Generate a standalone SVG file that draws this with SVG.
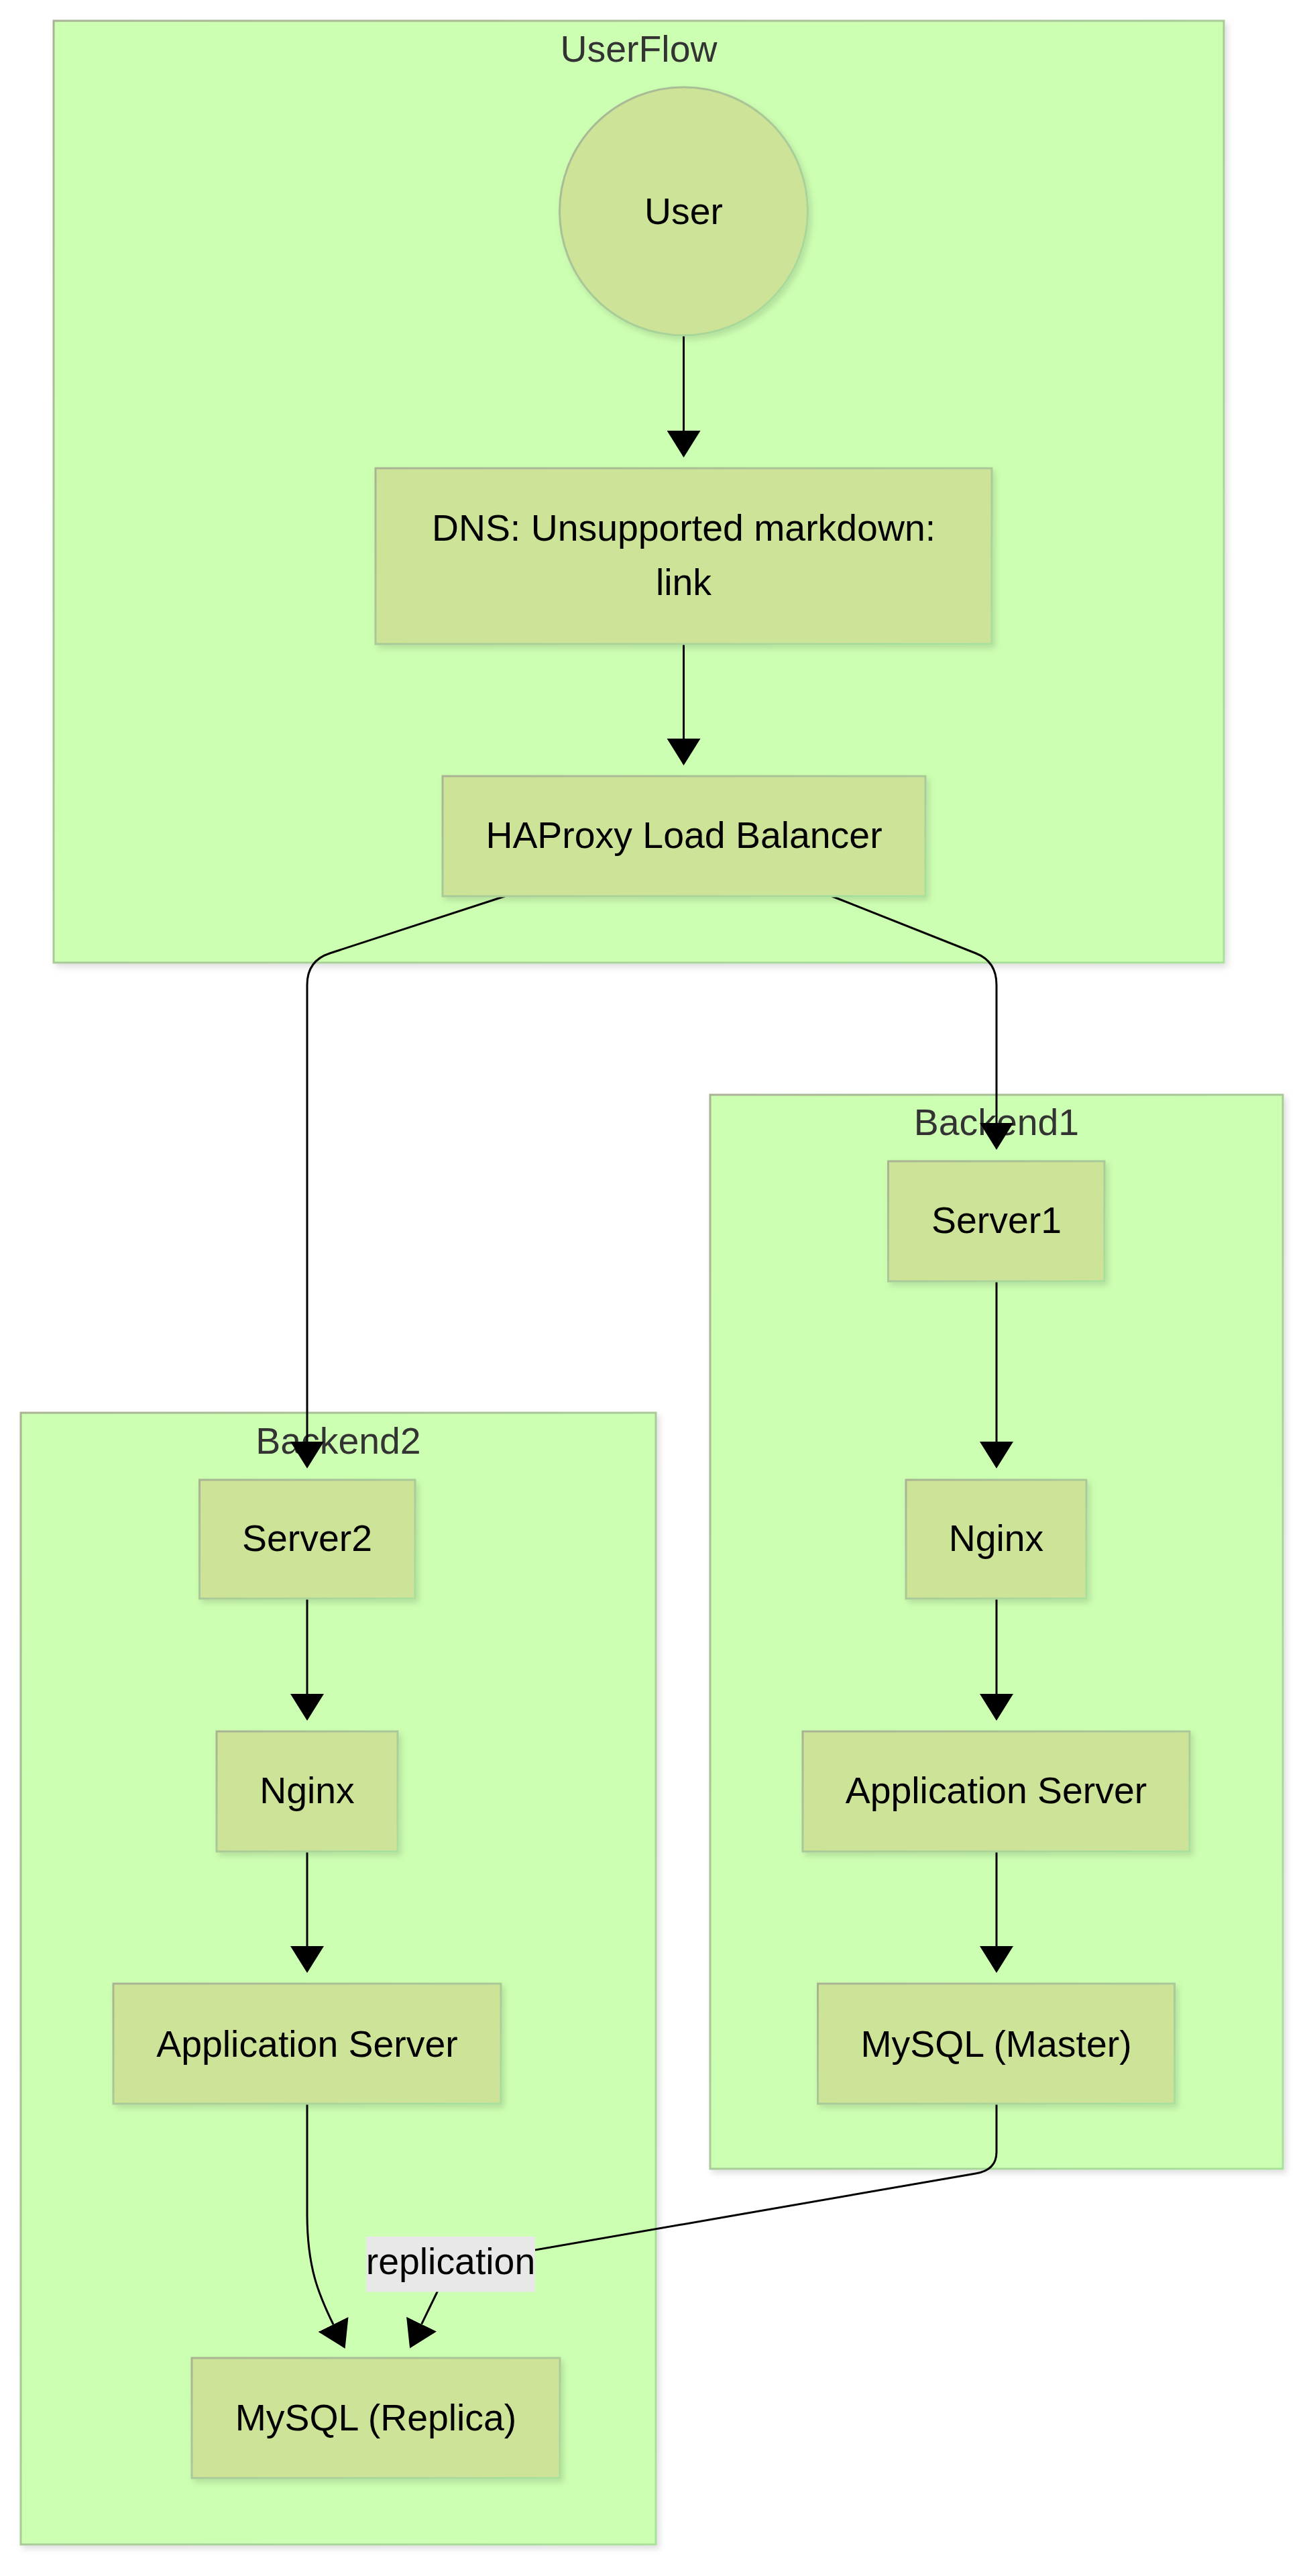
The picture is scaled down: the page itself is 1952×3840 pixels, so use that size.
<svg xmlns="http://www.w3.org/2000/svg" width="1952" height="3840" viewBox="0 0 1952 3840">
  <style>
    .cluster rect { fill: #cdffb2; stroke: url(#edgeGrad); stroke-width: 3; filter: url(#shadow); }
    .cluster text { fill: #333333; font-family: "Liberation Sans", Arial, sans-serif; font-size: 55.4px; text-anchor: middle; }
    .node rect, .node circle { fill: #cde498; stroke: url(#edgeGrad); stroke-width: 3; filter: url(#shadow); }
    .node text { fill: #000000; font-family: "Liberation Sans", Arial, sans-serif; font-size: 55.4px; text-anchor: middle; }
    .edge { fill: none; stroke: #000000; stroke-width: 3; marker-end: url(#arrow); }
    .elabel rect { fill: #e8e8e8; }
    .elabel text { fill: #000000; font-family: "Liberation Sans", Arial, sans-serif; font-size: 55.4px; text-anchor: middle; }
  </style>
  <defs>
    <linearGradient id="edgeGrad" x1="0" y1="0" x2="1" y2="1">
      <stop offset="0" stop-color="#a9b394"/>
      <stop offset="1" stop-color="#a8e09c"/>
    </linearGradient>
    <filter id="shadow" x="-10%" y="-10%" width="130%" height="130%">
      <feDropShadow dx="4" dy="5" stdDeviation="5" flood-color="#000000" flood-opacity="0.13"/>
    </filter>
    <marker id="arrow" markerUnits="userSpaceOnUse" markerWidth="40" markerHeight="50" refX="0" refY="25" orient="auto" viewBox="0 0 40 50">
      <path d="M0,0 L40,25 L0,50 z" fill="#000000"/>
    </marker>
  </defs>

  <g id="clusters">
    <g id="cluster-UserFlow" class="cluster">
      <rect x="80" y="31" width="1745" height="1404"/>
      <text x="952.5" y="92">UserFlow</text>
    </g>
    <g id="cluster-Backend1" class="cluster">
      <rect x="1059" y="1632" width="854" height="1601"/>
      <text x="1486" y="1692">Backend1</text>
    </g>
    <g id="cluster-Backend2" class="cluster">
      <rect x="31" y="2106" width="947" height="1687"/>
      <text x="504.5" y="2167">Backend2</text>
    </g>
  </g>

  <g id="connectors">
    <path class="edge" d="M1019.5,500 L1019.5,642"/>
    <path class="edge" d="M1019.5,960 L1019.5,1101"/>
    <path class="edge" d="M753,1336 L492,1421 Q458,1432 458,1468 L458,2149"/>
    <path class="edge" d="M1240.5,1336 L1455,1421 Q1486,1433 1486,1468 L1486,1674"/>
    <path class="edge" d="M1486,1910 L1486,2149"/>
    <path class="edge" d="M1486,2383 L1486,2525"/>
    <path class="edge" d="M1486,2760 L1486,2901"/>
    <path class="edge" d="M458,2383 L458,2525"/>
    <path class="edge" d="M458,2760 L458,2901"/>
    <path class="edge" d="M458,3136 L458,3300 C458,3380 475,3420 497,3465"/>
    <path class="edge" d="M1486,3136 L1486,3208 Q1486,3235 1455,3240 L700,3371 Q672,3377 660,3400 L628.6,3464.6"/>
  </g>

  <g id="edge-labels">
    <g id="label-replication" class="elabel">
      <rect x="546" y="3334" width="252" height="82.5"/>
      <text x="672" y="3390">replication</text>
    </g>
  </g>

  <g id="nodes">
    <g id="node-User" class="node">
      <circle cx="1019.5" cy="315" r="185"/>
      <text x="1019.5" y="334">User</text>
    </g>
    <g id="node-DNS" class="node">
      <rect x="560" y="698" width="919" height="262"/>
      <text x="1019.5" y="806">DNS: Unsupported markdown:</text>
      <text x="1019.5" y="887">link</text>
    </g>
    <g id="node-HAProxy" class="node">
      <rect x="660" y="1157" width="720" height="179"/>
      <text x="1020" y="1264">HAProxy Load Balancer</text>
    </g>
    <g id="node-Server1" class="node">
      <rect x="1324.5" y="1731" width="322.5" height="179"/>
      <text x="1486" y="1838">Server1</text>
    </g>
    <g id="node-Nginx1" class="node">
      <rect x="1351" y="2206" width="269" height="177"/>
      <text x="1485.5" y="2312">Nginx</text>
    </g>
    <g id="node-App1" class="node">
      <rect x="1197" y="2581" width="577" height="179"/>
      <text x="1485.5" y="2688">Application Server</text>
    </g>
    <g id="node-MySQLMaster" class="node">
      <rect x="1219.5" y="2957" width="532" height="179"/>
      <text x="1485.5" y="3066">MySQL (Master)</text>
    </g>
    <g id="node-Server2" class="node">
      <rect x="297.5" y="2206" width="321.5" height="177"/>
      <text x="458" y="2312">Server2</text>
    </g>
    <g id="node-Nginx2" class="node">
      <rect x="323" y="2581" width="270" height="179"/>
      <text x="458" y="2688">Nginx</text>
    </g>
    <g id="node-App2" class="node">
      <rect x="169" y="2957" width="578" height="179"/>
      <text x="458" y="3066">Application Server</text>
    </g>
    <g id="node-MySQLReplica" class="node">
      <rect x="286" y="3515" width="549" height="179"/>
      <text x="560.5" y="3623">MySQL (Replica)</text>
    </g>
  </g>
</svg>
